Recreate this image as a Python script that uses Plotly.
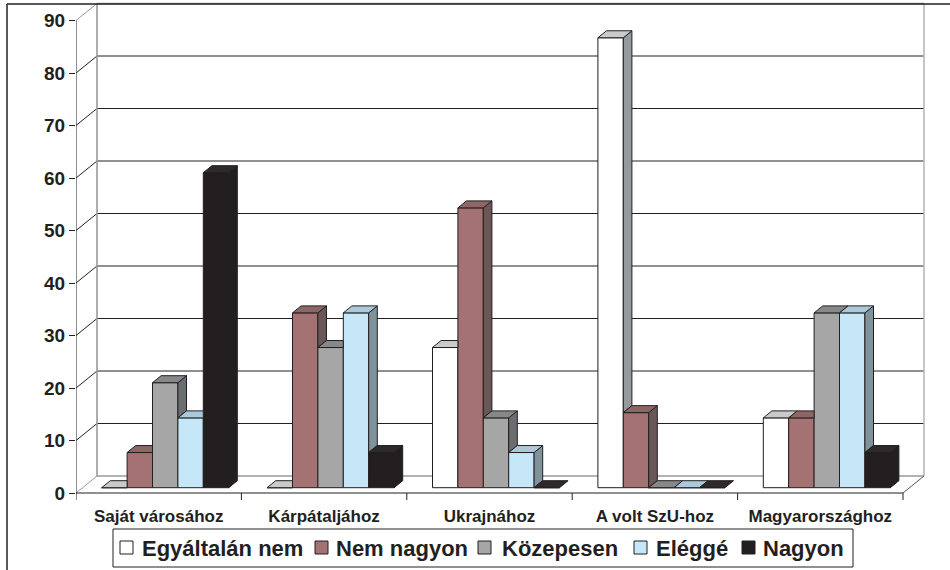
import plotly.graph_objects as go

# ---------------- data ----------------
categories = ["Saját városához", "Kárpátaljához", "Ukrajnához", "A volt SzU-hoz", "Magyarországhoz"]
series_names = ["Egyáltalán nem", "Nem nagyon", "Közepesen", "Eléggé", "Nagyon"]
egyaltalan_nem = [0, 0, 26.7, 85.7, 13.3]
nem_nagyon = [6.7, 33.3, 53.3, 14.3, 13.3]
kozepesen = [20.0, 26.7, 13.3, 0, 33.3]
eleggé = [13.3, 33.3, 6.7, 0, 33.3]
nagyon = [60.0, 6.7, 0, 0, 6.7]
y_ticks = [0, 10, 20, 30, 40, 50, 60, 70, 80, 90]

series_values = [egyaltalan_nem, nem_nagyon, kozepesen, eleggé, nagyon]

# ---------------- styles ----------------
front_colors = ["#FFFFFF", "#A47272", "#A6A6A6", "#C6E7F8", "#231F20"]
top_colors = ["#C9CBCB", "#8E6666", "#86888A", "#A8CADC", "#2E2A2B"]
side_colors = ["#979A9C", "#6B5757", "#6B6E71", "#7F939C", "#231F20"]
OUTLINE = "#231F20"
FONT = "Liberation Sans, Arial, sans-serif"

W, H = 950, 570
L_PX, R_PX, T_PX, B_PX = 76, 926, 2, 501
PX_CAT = 165.4          # pixels per category
PX_UNIT = 5.25          # pixels per value unit
ZERO_PX = 493           # pixel row of value 0 on the front plane

x_range = [-0.5, -0.5 + (R_PX - L_PX) / PX_CAT]
y_range = [-(B_PX - ZERO_PX) / PX_UNIT, (ZERO_PX - T_PX) / PX_UNIT]

# 3-D geometry (in data units)
WALL_DX, WALL_DY = 21 / PX_CAT, 17 / PX_UNIT       # back wall offset
BAR_SX, BAR_BASE = 6.5 / PX_CAT, 5.3 / PX_UNIT      # bar front plane offset
BAR_DX, BAR_DH = 8.6 / PX_CAT, 7 / PX_UNIT          # bar depth
BAR_W = 25.4 / PX_CAT                               # bar width
n_ser = len(series_values)

fig = go.Figure()

# front faces as bars
for j, vals in enumerate(series_values):
    xs = [k + BAR_SX + (j - (n_ser - 1) / 2) * BAR_W for k in range(len(categories))]
    fig.add_trace(go.Bar(
        x=xs, y=vals, base=[BAR_BASE] * len(vals), width=BAR_W,
        name=series_names[j],
        marker=dict(color=front_colors[j], line=dict(color=OUTLINE, width=1)),
        showlegend=False, hoverinfo="skip",
    ))

# tops and sides (computed from values), drawn left to right
for j, vals in enumerate(series_values):
    tx, ty, sx, sy = [], [], [], []
    for k, v in enumerate(vals):
        xl = k + BAR_SX + (j - (n_ser - 1) / 2) * BAR_W - BAR_W / 2
        xr = xl + BAR_W
        yt = BAR_BASE + v
        nxt = series_values[j + 1][k] if j + 1 < n_ser else None
        # top face
        if nxt is not None and nxt > v:
            pts = [(xl, yt), (xr, yt), (xr, yt + BAR_DH), (xl + BAR_DX, yt + BAR_DH)]
        else:
            pts = [(xl, yt), (xr, yt), (xr + BAR_DX, yt + BAR_DH), (xl + BAR_DX, yt + BAR_DH)]
        pts.append(pts[0])
        tx += [p[0] for p in pts] + [None]
        ty += [p[1] for p in pts] + [None]
        # side face
        low = BAR_BASE + (nxt if nxt is not None else 0)
        if yt > low:
            pts = [(xr, low), (xr, yt), (xr + BAR_DX, yt + BAR_DH), (xr + BAR_DX, low + BAR_DH)]
            pts.append(pts[0])
            sx += [p[0] for p in pts] + [None]
            sy += [p[1] for p in pts] + [None]
    if sx:
        fig.add_trace(go.Scatter(x=sx, y=sy, mode="lines", fill="toself",
                                 fillcolor=side_colors[j], line=dict(color=OUTLINE, width=1),
                                 showlegend=False, hoverinfo="skip"))
    fig.add_trace(go.Scatter(x=tx, y=ty, mode="lines", fill="toself",
                             fillcolor=top_colors[j], line=dict(color=OUTLINE, width=1),
                             showlegend=False, hoverinfo="skip"))

shapes = []
x0f, x1f = -0.5, len(categories) - 0.5
GRAY = "#9A9A9A"
# back wall gridlines and connectors
for t in y_ticks:
    edge = t in (y_ticks[0], y_ticks[-1])
    col = GRAY if edge else OUTLINE
    shapes.append(dict(type="line", xref="x", yref="y", layer="below",
                       x0=x0f + WALL_DX, x1=x1f + WALL_DX, y0=t + WALL_DY, y1=t + WALL_DY,
                       line=dict(color=col, width=1.3 if edge else 1)))
    shapes.append(dict(type="line", xref="x", yref="y", layer="below",
                       x0=x0f, x1=x0f + WALL_DX, y0=t, y1=t + WALL_DY,
                       line=dict(color=col, width=1)))
# wall vertical edges
for xe, c in ((x0f + WALL_DX, GRAY), (x1f + WALL_DX, "#B8B8B8")):
    shapes.append(dict(type="line", xref="x", yref="y", layer="below",
                       x0=xe, x1=xe, y0=y_ticks[0] + WALL_DY, y1=y_ticks[-1] + WALL_DY,
                       line=dict(color=c, width=1.6)))
# floor right edge
shapes.append(dict(type="line", xref="x", yref="y", layer="below",
                   x0=x1f, x1=x1f + WALL_DX, y0=0, y1=WALL_DY,
                   line=dict(color="#555555", width=1)))
# front axis lines
shapes.append(dict(type="line", xref="x", yref="y", x0=x0f, x1=x1f, y0=0, y1=0,
                   line=dict(color=OUTLINE, width=1)))
shapes.append(dict(type="line", xref="x", yref="y", x0=x0f, x1=x0f, y0=0, y1=y_ticks[-1],
                   line=dict(color=OUTLINE, width=1)))
# category boundary ticks
for k in range(len(categories) + 1):
    shapes.append(dict(type="line", xref="x", yref="y", x0=k - 0.5, x1=k - 0.5,
                       y0=0, y1=-7 / PX_UNIT, line=dict(color=OUTLINE, width=1)))


def pxx(px):
    return (px - L_PX) / (R_PX - L_PX)


def pxy(py):
    return (B_PX - py) / (B_PX - T_PX)


# outer chart frame
shapes.append(dict(type="line", xref="paper", yref="paper", x0=pxx(7), x1=pxx(7),
                   y0=pxy(572), y1=pxy(4), line=dict(color=OUTLINE, width=1.5)))
shapes.append(dict(type="line", xref="paper", yref="paper", x0=pxx(7), x1=pxx(952),
                   y0=pxy(4), y1=pxy(4), line=dict(color=OUTLINE, width=1.5)))

# legend (manual)
shapes.append(dict(type="rect", xref="paper", yref="paper", x0=pxx(113), x1=pxx(853),
                   y0=pxy(567), y1=pxy(529), line=dict(color=OUTLINE, width=1),
                   fillcolor="white"))
square_px = [120, 315, 478, 634, 742]
text_px = [140, 334, 500, 654, 761]
annotations = []
for j, name in enumerate(series_names):
    shapes.append(dict(type="rect", xref="paper", yref="paper",
                       x0=pxx(square_px[j]), x1=pxx(square_px[j] + 13),
                       y0=pxy(554), y1=pxy(541),
                       line=dict(color=OUTLINE, width=1), fillcolor=front_colors[j]))
    annotations.append(dict(xref="paper", yref="paper", x=pxx(text_px[j]), y=pxy(548),
                            text=name, showarrow=False, xanchor="left", yanchor="middle",
                            font=dict(family=FONT, size=22, color="#231F20", weight="bold")))

fig.update_layout(
    width=W, height=H,
    margin=dict(l=L_PX, r=W - R_PX, t=T_PX, b=H - B_PX),
    paper_bgcolor="white", plot_bgcolor="white",
    barmode="overlay",
    showlegend=False,
    hovermode=False,
    shapes=shapes, annotations=annotations,
    xaxis=dict(range=x_range, tickvals=list(range(len(categories))), ticktext=categories,
               showgrid=False, zeroline=False, showline=False, ticks="",
               tickfont=dict(family=FONT, size=17, color="#231F20", weight="bold"),
               ticklabelstandoff=3),
    yaxis=dict(range=y_range, tickvals=y_ticks, showgrid=False, zeroline=False,
               showline=False, ticks="outside", ticklen=6, tickcolor=OUTLINE,
               tickfont=dict(family=FONT, size=19, color="#231F20", weight="bold")),
)

fig.write_html("out.html", config={"displayModeBar": False},
               post_script="document.body.style.margin='0px';document.body.style.overflow='hidden';")
